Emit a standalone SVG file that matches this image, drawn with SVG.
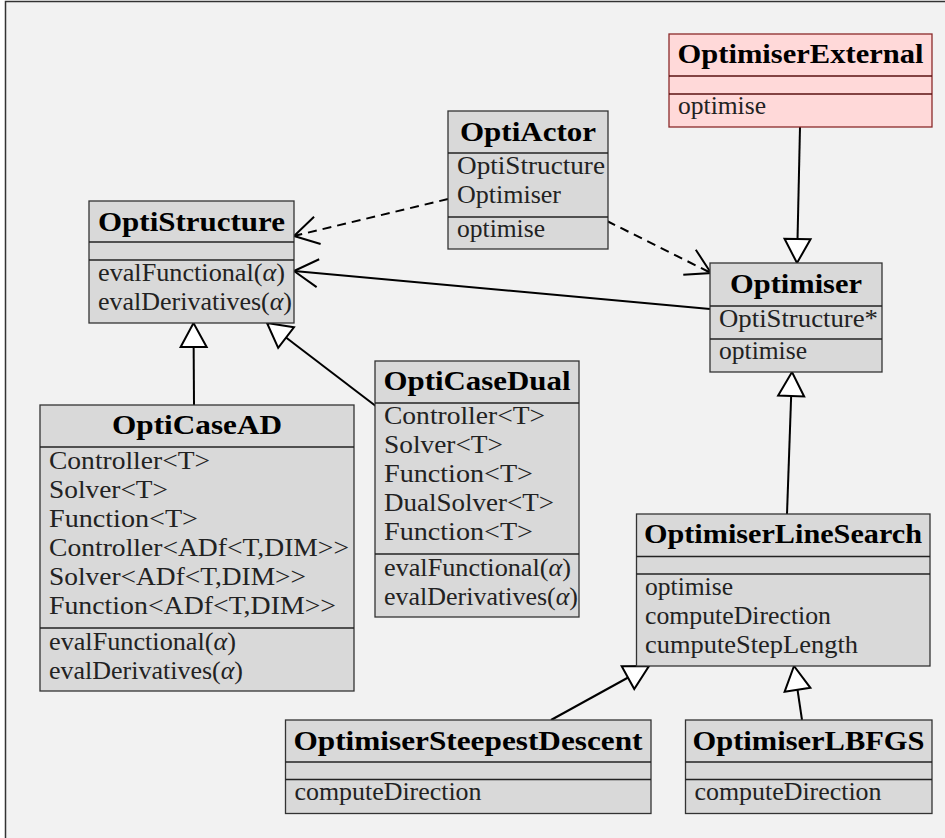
<svg xmlns="http://www.w3.org/2000/svg" width="945" height="838" viewBox="0 0 945 838">
<style>
.box{fill:#d9d9d9;stroke:#333;stroke-width:1.3}
.ext{fill:#ffd9d9;stroke:#8b2a2a;stroke-width:1.3}
.sep{stroke:#222;stroke-width:1.3}
.sepx{stroke:#5a1010;stroke-width:1.3}
.t{font-family:"Liberation Serif","Times New Roman",serif;font-size:27px;font-weight:bold;fill:#000;text-anchor:middle}
.a{font-family:"Liberation Serif","Times New Roman",serif;font-size:25px;fill:#222}
.c{fill:none;stroke:#000;stroke-width:2}
.d{fill:none;stroke:#000;stroke-width:2;stroke-dasharray:9 6}
</style>
<defs>
<marker id="tri" markerUnits="userSpaceOnUse" viewBox="-30 -20 60 40" markerWidth="60" markerHeight="40" refX="24" refY="0" orient="auto">
<path d="M0,-13 L24,0 L0,13 Z" fill="#fff" stroke="#000" stroke-width="2"/>
</marker>
<marker id="open" markerUnits="userSpaceOnUse" viewBox="-30 -20 60 40" markerWidth="60" markerHeight="40" refX="0" refY="0" orient="auto">
<path d="M-24,-14 L0,0 L-24,14" fill="none" stroke="#000" stroke-width="2"/>
</marker>
</defs>
<rect x="0" y="0" width="945" height="838" fill="#fff"/>
<rect x="5.5" y="1.5" width="1000" height="1000" fill="#f2f2f2" stroke="#333" stroke-width="1.5"/>

<g id="connectors">
<path class="c" d="M800,127 L797,263" marker-end="url(#tri)"/>
<path class="c" d="M787,514 L792,372" marker-end="url(#tri)"/>
<path class="c" d="M551,720 L649,666" marker-end="url(#tri)"/>
<path class="c" d="M802,720 L794,666" marker-end="url(#tri)"/>
<path class="c" d="M194,405 L193.5,323" marker-end="url(#tri)"/>
<path class="c" d="M377,407 L267,323" marker-end="url(#tri)"/>
<path class="c" d="M710,309 L294,271" marker-end="url(#open)"/>
<path class="d" d="M448,199 L294,236" marker-end="url(#open)"/>
<path class="d" d="M607,221 L711,273" marker-end="url(#open)"/>
</g>

<g id="OptimiserExternal">
<rect class="ext" x="669" y="34" width="263" height="93"/>
<line class="sepx" x1="669" y1="76" x2="932" y2="76"/>
<line class="sepx" x1="669" y1="94" x2="932" y2="94"/>
<text class="t" x="800.5" y="63" textLength="246" lengthAdjust="spacingAndGlyphs">OptimiserExternal</text>
<text class="a" x="678" y="114" textLength="88" lengthAdjust="spacingAndGlyphs">optimise</text>
</g>

<g id="OptiActor">
<rect class="box" x="448" y="111" width="160" height="138"/>
<line class="sep" x1="448" y1="153" x2="608" y2="153"/>
<line class="sep" x1="448" y1="217" x2="608" y2="217"/>
<text class="t" x="528" y="141" textLength="136" lengthAdjust="spacingAndGlyphs">OptiActor</text>
<text class="a" x="457" y="174" textLength="148" lengthAdjust="spacingAndGlyphs">OptiStructure</text>
<text class="a" x="457" y="203" textLength="104" lengthAdjust="spacingAndGlyphs">Optimiser</text>
<text class="a" x="457" y="237" textLength="88" lengthAdjust="spacingAndGlyphs">optimise</text>
</g>

<g id="OptiStructure">
<rect class="box" x="89" y="201" width="205" height="122"/>
<line class="sep" x1="89" y1="242" x2="294" y2="242"/>
<line class="sep" x1="89" y1="260" x2="294" y2="260"/>
<text class="t" x="191.5" y="231" textLength="187" lengthAdjust="spacingAndGlyphs">OptiStructure</text>
<text class="a" x="98" y="281" textLength="187" lengthAdjust="spacingAndGlyphs">evalFunctional(<tspan font-style="italic">α</tspan>)</text>
<text class="a" x="98" y="310" textLength="194" lengthAdjust="spacingAndGlyphs">evalDerivatives(<tspan font-style="italic">α</tspan>)</text>
</g>

<g id="Optimiser">
<rect class="box" x="710" y="263" width="172" height="109"/>
<line class="sep" x1="710" y1="306" x2="882" y2="306"/>
<line class="sep" x1="710" y1="339" x2="882" y2="339"/>
<text class="t" x="796" y="293" textLength="132" lengthAdjust="spacingAndGlyphs">Optimiser</text>
<text class="a" x="719" y="327" textLength="159" lengthAdjust="spacingAndGlyphs">OptiStructure*</text>
<text class="a" x="719" y="359" textLength="88" lengthAdjust="spacingAndGlyphs">optimise</text>
</g>

<g id="OptiCaseAD">
<rect class="box" x="40" y="405" width="314" height="286"/>
<line class="sep" x1="40" y1="447" x2="354" y2="447"/>
<line class="sep" x1="40" y1="628" x2="354" y2="628"/>
<text class="t" x="197" y="434" textLength="170" lengthAdjust="spacingAndGlyphs">OptiCaseAD</text>
<text class="a" x="49" y="469" textLength="161" lengthAdjust="spacingAndGlyphs">Controller&lt;T&gt;</text>
<text class="a" x="49" y="498" textLength="119" lengthAdjust="spacingAndGlyphs">Solver&lt;T&gt;</text>
<text class="a" x="49" y="527" textLength="149" lengthAdjust="spacingAndGlyphs">Function&lt;T&gt;</text>
<text class="a" x="49" y="556" textLength="300" lengthAdjust="spacingAndGlyphs">Controller&lt;ADf&lt;T,DIM&gt;&gt;</text>
<text class="a" x="49" y="585" textLength="257" lengthAdjust="spacingAndGlyphs">Solver&lt;ADf&lt;T,DIM&gt;&gt;</text>
<text class="a" x="49" y="614" textLength="287" lengthAdjust="spacingAndGlyphs">Function&lt;ADf&lt;T,DIM&gt;&gt;</text>
<text class="a" x="49" y="650" textLength="187" lengthAdjust="spacingAndGlyphs">evalFunctional(<tspan font-style="italic">α</tspan>)</text>
<text class="a" x="49" y="679" textLength="194" lengthAdjust="spacingAndGlyphs">evalDerivatives(<tspan font-style="italic">α</tspan>)</text>
</g>

<g id="OptiCaseDual">
<rect class="box" x="375" y="361" width="204" height="256"/>
<line class="sep" x1="375" y1="403" x2="579" y2="403"/>
<line class="sep" x1="375" y1="554" x2="579" y2="554"/>
<text class="t" x="477" y="390" textLength="187" lengthAdjust="spacingAndGlyphs">OptiCaseDual</text>
<text class="a" x="384" y="424" textLength="161" lengthAdjust="spacingAndGlyphs">Controller&lt;T&gt;</text>
<text class="a" x="384" y="453" textLength="119" lengthAdjust="spacingAndGlyphs">Solver&lt;T&gt;</text>
<text class="a" x="384" y="482" textLength="149" lengthAdjust="spacingAndGlyphs">Function&lt;T&gt;</text>
<text class="a" x="384" y="511" textLength="170" lengthAdjust="spacingAndGlyphs">DualSolver&lt;T&gt;</text>
<text class="a" x="384" y="540" textLength="149" lengthAdjust="spacingAndGlyphs">Function&lt;T&gt;</text>
<text class="a" x="384" y="576" textLength="187" lengthAdjust="spacingAndGlyphs">evalFunctional(<tspan font-style="italic">α</tspan>)</text>
<text class="a" x="384" y="605" textLength="194" lengthAdjust="spacingAndGlyphs">evalDerivatives(<tspan font-style="italic">α</tspan>)</text>
</g>

<g id="OptimiserLineSearch">
<rect class="box" x="636.5" y="514" width="293.5" height="152"/>
<line class="sep" x1="636.5" y1="556.5" x2="930" y2="556.5"/>
<line class="sep" x1="636.5" y1="574" x2="930" y2="574"/>
<text class="t" x="783" y="543" textLength="278" lengthAdjust="spacingAndGlyphs">OptimiserLineSearch</text>
<text class="a" x="645" y="595" textLength="88" lengthAdjust="spacingAndGlyphs">optimise</text>
<text class="a" x="645" y="624" textLength="186" lengthAdjust="spacingAndGlyphs">computeDirection</text>
<text class="a" x="645" y="653" textLength="213" lengthAdjust="spacingAndGlyphs">cumputeStepLength</text>
</g>

<g id="OptimiserSteepestDescent">
<rect class="box" x="285.5" y="720" width="365.5" height="93.5"/>
<line class="sep" x1="285.5" y1="762" x2="651" y2="762"/>
<line class="sep" x1="285.5" y1="779.5" x2="651" y2="779.5"/>
<text class="t" x="468" y="750" textLength="349" lengthAdjust="spacingAndGlyphs">OptimiserSteepestDescent</text>
<text class="a" x="294.5" y="800" textLength="187" lengthAdjust="spacingAndGlyphs">computeDirection</text>
</g>

<g id="OptimiserLBFGS">
<rect class="box" x="685.5" y="720" width="246.5" height="93.5"/>
<line class="sep" x1="685.5" y1="762" x2="932" y2="762"/>
<line class="sep" x1="685.5" y1="779.5" x2="932" y2="779.5"/>
<text class="t" x="808.5" y="750" textLength="232" lengthAdjust="spacingAndGlyphs">OptimiserLBFGS</text>
<text class="a" x="694.5" y="800" textLength="187" lengthAdjust="spacingAndGlyphs">computeDirection</text>
</g>
</svg>
